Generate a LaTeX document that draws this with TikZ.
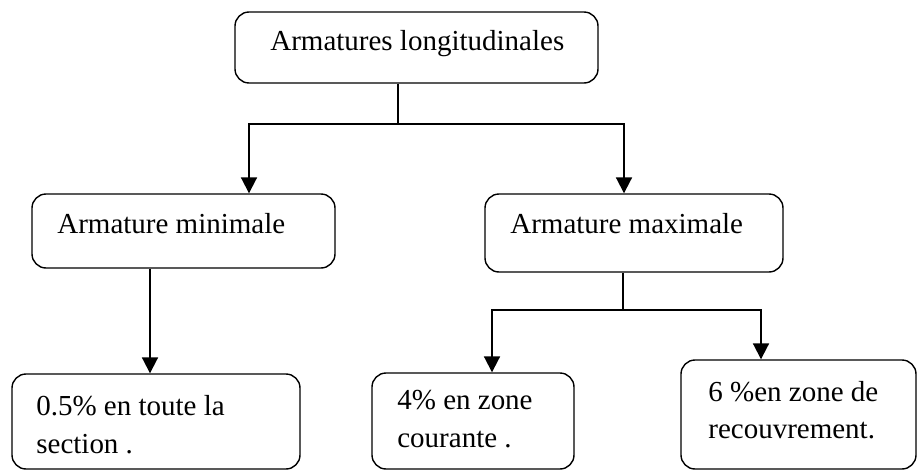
\documentclass[tikz,border=0pt]{standalone}
\usepackage{fontspec}
\setmainfont{Liberation Serif}
\usetikzlibrary{arrows.meta}

\begin{document}
\begin{tikzpicture}[
	box/.style={draw, rounded corners=8pt, line width=0.8pt, inner sep=0pt},
	lbl/.style={anchor=base west, inner sep=0pt, align=left, font=\fontsize{16.5}{21.6}\selectfont},
	conn/.style={line width=1.1pt},
	arr/.style={conn, -{Triangle[width=9pt,length=9pt]}}
	]
	\useasboundingbox (0,0) rectangle (18.36,9.4);
	% boxes
	\node[box, minimum width=7.26cm, minimum height=1.42cm] (top) at (8.33,8.45) {};
	\node[box, minimum width=6.06cm, minimum height=1.48cm] (lmid) at (3.67,4.78) {};
	\node[box, minimum width=5.96cm, minimum height=1.56cm] (rmid) at (12.68,4.74) {};
	\node[box, minimum width=5.76cm, minimum height=1.90cm] (bl) at (3.12,0.97) {};
	\node[box, minimum width=4.04cm, minimum height=1.92cm] (bm) at (9.46,0.98) {};
	\node[box, minimum width=4.70cm, minimum height=2.18cm] (br) at (15.97,1.11) {};
	% texts (two-line ones sit on their last line)
	\node[lbl] (ttop) at (5.40,8.40) {Armatures longitudinales};
	\node[lbl] (tlmid) at (1.14,4.74) {Armature minimale};
	\node[lbl] (trmid) at (10.20,4.74) {Armature maximale};
	\node[lbl] (tbl) at (0.72,0.34) {0.5\% en toute la\\section .};
	\node[lbl] (tbm) at (7.94,0.46) {4\% en zone\\courante .};
	\node[lbl, font=\fontsize{16.5}{20.5}\selectfont] (tbr) at (14.16,0.64) {6 \%en zone de\\recouvrement.};
	% connectors
	\coordinate (j1) at (7.96,6.92);
	\coordinate (a1) at (4.98,6.92);
	\coordinate (a2) at (12.48,6.92);
	\coordinate (c1) at (3.00,3.00);
	\coordinate (j2) at (12.46,3.20);
	\coordinate (b1) at (9.84,3.20);
	\coordinate (b2) at (15.22,3.20);
	\draw[conn] (top.south -| j1) -- (j1);
	\draw[arr] (j1) -- (a1) -- (lmid.north -| a1);
	\draw[arr] (j1) -- (a2) -- (rmid.north -| a2);
	\draw[arr] (lmid.south -| c1) -- (bl.north -| c1);
	\draw[conn] (rmid.south -| j2) -- (j2);
	\draw[arr] (j2) -- (b1) -- (bm.north -| b1);
	\draw[arr] (j2) -- (b2) -- (br.north -| b2);
\end{tikzpicture}
\end{document}
